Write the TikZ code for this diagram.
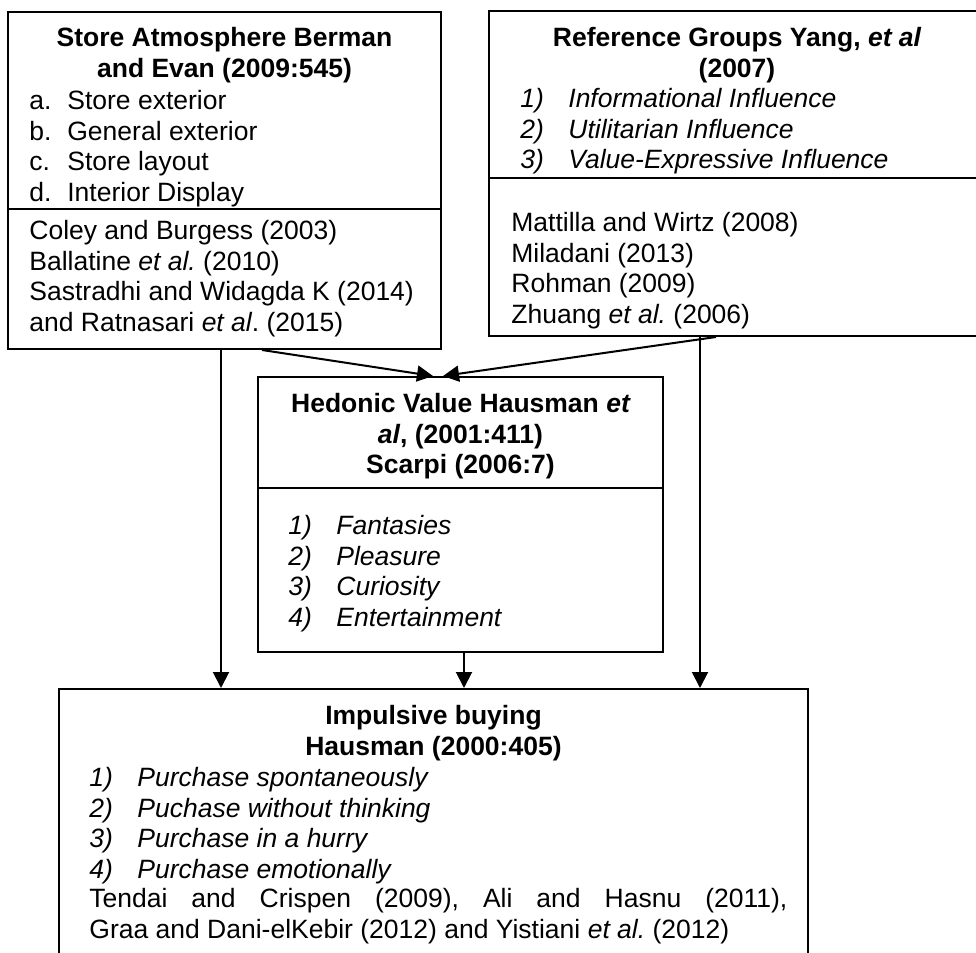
\documentclass[tikz,border=0pt]{standalone}
\usepackage{fontspec}
\setmainfont{Liberation Sans}
\usetikzlibrary{arrows.meta,positioning}
\frenchspacing

\newcommand{\itm}[3][24pt]{\makebox[#1][l]{#2}#3}

\begin{document}
\begin{tikzpicture}[x=0.5pt,y=-0.5pt,
		box/.style={draw, line width=1pt, rectangle, inner sep=0pt},
		txt/.style={inner sep=0pt, font=\fontsize{13.25}{15.3}\selectfont},
		head/.style={txt, align=center, anchor=north, font=\fontsize{13.25}{15.3}\selectfont\bfseries},
		list/.style={txt, align=left, anchor=north west},
		arr/.style={line width=1pt, -{Triangle[length=8pt,width=8pt]}}]
		\useasboundingbox (0,0) rectangle (976,953);
		% the four boxes
		\node[box, minimum width=216.5pt, minimum height=168.5pt] (atmos) at (224.5,180.5) {};
		\node[box, minimum width=248pt, minimum height=162.5pt] (refgroup) at (737,173.5) {};
		\node[box, minimum width=202.5pt, minimum height=137.5pt] (hedonic) at (460.5,514.5) {};
		\node[box, minimum width=374.5pt, minimum height=150.5pt] (impulse) at (433.5,839.5) {};
		\draw[line width=1pt] ([yshift=-99pt]atmos.north west) -- ([yshift=-99pt]atmos.north east);
		\draw[line width=1pt] ([yshift=-84pt]refgroup.north west) -- ([yshift=-84pt]refgroup.north east);
		\draw[line width=1pt] ([yshift=-56pt]hedonic.north west) -- ([yshift=-56pt]hedonic.north east);
		% store atmosphere
		\node[head] (atmoshead) at (224.5,27) {Store Atmosphere Berman\\and Evan (2009:545)};
		\node[list] (atmositems) at (29,90) {\itm[19pt]{a.}{Store exterior}\\\itm[19pt]{b.}{General exterior}\\\itm[19pt]{c.}{Store layout}\\\itm[19pt]{d.}{Interior Display}};
		\node[list] (atmosrefs) at (29,220) {Coley and Burgess (2003)\\Ballatine {\itshape et al.} (2010)\\Sastradhi and Widagda K (2014)\\and Ratnasari {\itshape et al}. (2015)};
		% reference groups
		\node[head] (refhead) at (737,27) {Reference Groups Yang, {\itshape et al}\\(2007)};
		\node[list, font=\fontsize{13.25}{15.3}\selectfont\itshape] (refitems) at (520,88) {\itm{1)}{Informational Influence}\\\itm{2)}{Utilitarian Influence}\\\itm{3)}{Value-Expressive Influence}};
		\node[list] (refrefs) at (511,212) {Mattilla and Wirtz (2008)\\Miladani (2013)\\Rohman (2009)\\Zhuang {\itshape et al.} (2006)};
		% hedonic value
		\node[head] (hedhead) at (460.5,393) {Hedonic Value Hausman {\itshape et}\\{\itshape al}, (2001:411)\\Scarpi (2006:7)};
		\node[list, font=\fontsize{13.25}{15.3}\selectfont\itshape] (heditems) at (288,515) {\itm{1)}{Fantasies}\\\itm{2)}{Pleasure}\\\itm{3)}{Curiosity}\\\itm{4)}{Entertainment}};
		% impulsive buying
		\node[head] (imphead) at (433.5,705) {Impulsive buying\\Hausman (2000:405)};
		\node[list, font=\fontsize{13.25}{15.3}\selectfont\itshape] (impitems) at (89,767) {\itm{1)}{Purchase spontaneously}\\\itm{2)}{Puchase without thinking}\\\itm{3)}{Purchase in a hurry}\\\itm{4)}{Purchase emotionally}};
		\node[list] (imprefs) at (89,888) {\makebox[349pt][s]{Tendai and Crispen (2009), Ali and Hasnu (2011),}\\Graa and Dani-elKebir (2012) and Yistiani {\itshape et al.} (2012)};
		% connectors
		\draw[arr] ([xshift=18.75pt]atmos.south) -- ([xshift=-13.75pt]hedonic.north);
		\draw[arr] ([xshift=-10.5pt]refgroup.south) -- ([xshift=-8.75pt]hedonic.north);
		\draw[arr] ([xshift=-1.75pt]atmos.south) -- ([xshift=-106.25pt]impulse.north);
		\draw[arr] ([xshift=1.75pt]hedonic.south) -- ([xshift=15.25pt]impulse.north);
		\draw[arr] ([xshift=-18.5pt]refgroup.south) -- ([xshift=133.25pt]impulse.north);
\end{tikzpicture}
\end{document}
